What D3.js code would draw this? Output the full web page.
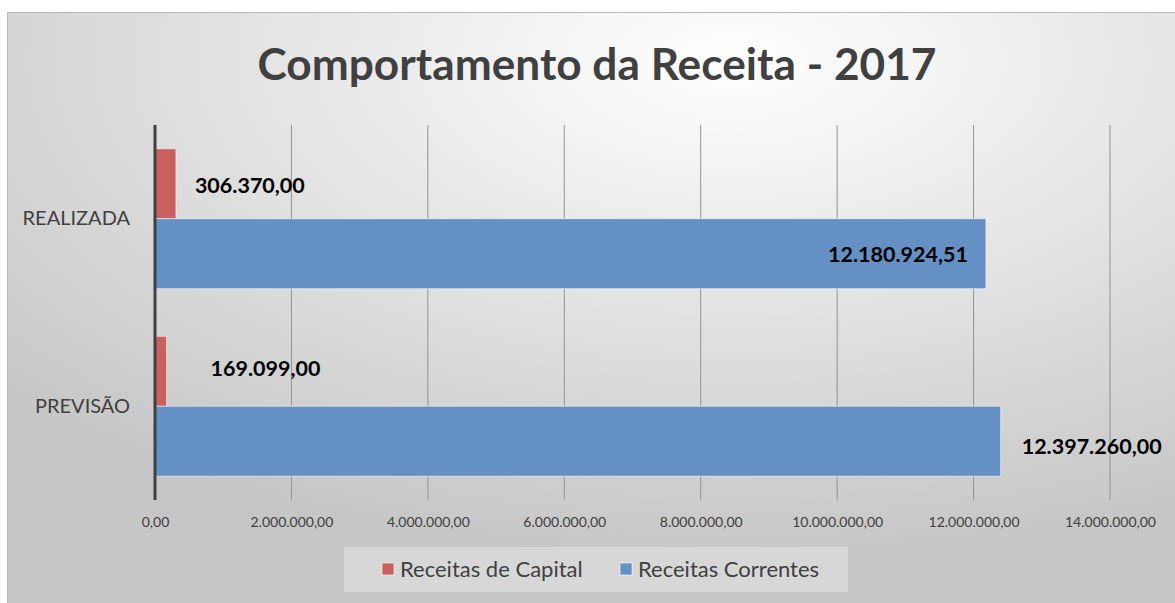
<!DOCTYPE html>
<html lang="pt">
<head>
<meta charset="UTF-8">
<title>Comportamento da Receita - 2017</title>
<script src="https://d3js.org/d3.v7.min.js"></script>
<style>
  body { margin: 0; background: #fff; font-family: Lato, 'Open Sans', sans-serif; }
  .tick text { fill: #404040; }
</style>
</head>
<body>
<div id="chart"></div>
<script>
// data
const categories = ["REALIZADA", "PREVISÃO"];
const seriesNames = ["Receitas de Capital", "Receitas Correntes"];
const capital = [306370.00, 169099.00];
const correntes = [12180924.51, 12397260.00];
const xTicks = [0, 2000000, 4000000, 6000000, 8000000, 10000000, 12000000, 14000000];
const colors = ["#c9625f", "#6490c4"];

const W = 1175, H = 603;
const plot = {left: 155, right: 1110, top: 125, bottom: 500};

const svg = d3.select("#chart").append("svg")
    .attr("width", W).attr("height", H);

// background gradient
const defs = svg.append("defs");
const grad = defs.append("radialGradient").attr("id", "bg")
    .attr("cx", "62%").attr("cy", "8%").attr("r", "85%");
grad.append("stop").attr("offset", "0%").attr("stop-color", "#ffffff");
grad.append("stop").attr("offset", "100%").attr("stop-color", "#c6c6c6");

svg.append("rect").attr("x", 7.5).attr("y", 12.5)
    .attr("width", W - 7).attr("height", H - 12)
    .attr("fill", "url(#bg)").attr("stroke", "#b8b8b8");

// number format pt-BR
const fmt = d3.formatLocale({decimal: ",", thousands: ".", grouping: [3], currency: ["R$", ""]}).format(",.2f");

// scales
const x = d3.scaleLinear().domain([0, 14000000]).range([plot.left, plot.right]);
const y = d3.scaleBand().domain(categories).range([plot.top, plot.bottom]);
const ySub = d3.scaleBand().domain(seriesNames).range([0, y.bandwidth()])
    .paddingInner(0).paddingOuter(0.34);

// title
svg.append("text")
    .attr("x", 597).attr("y", 80)
    .attr("text-anchor", "middle")
    .attr("font-size", 44).attr("font-weight", 700)
    .attr("fill", "#404040")
    .attr("textLength", 679).attr("lengthAdjust", "spacingAndGlyphs")
    .text("Comportamento da Receita - 2017");

// gridlines
svg.append("g").selectAll("line")
    .data(xTicks.slice(1))
    .join("line")
    .attr("x1", d => x(d)).attr("x2", d => x(d))
    .attr("y1", plot.top).attr("y2", plot.bottom)
    .attr("stroke", "#939393").attr("stroke-width", 1);

// x axis labels
const xAxis = svg.append("g")
    .attr("transform", `translate(0,${plot.bottom + 14})`)
    .call(d3.axisBottom(x).tickValues(xTicks).tickSize(0).tickFormat(fmt));
xAxis.select(".domain").remove();
xAxis.selectAll("text").attr("font-family", "Lato, sans-serif").attr("font-size", 14);

// y axis labels
const yAxis = svg.append("g")
    .attr("transform", `translate(${plot.left - 22},0)`)
    .call(d3.axisLeft(y).tickSize(0));
yAxis.select(".domain").remove();
yAxis.selectAll("text").attr("font-family", "Lato, sans-serif").attr("font-size", 20);

// bars
const rows = categories.map((c, i) => ({cat: c, values: [capital[i], correntes[i]]}));
const groups = svg.append("g").selectAll("g")
    .data(rows).join("g")
    .attr("transform", d => `translate(0,${y(d.cat)})`);

groups.selectAll("rect")
    .data(d => d.values.map((v, j) => ({series: seriesNames[j], value: v, j})))
    .join("rect")
    .attr("x", x(0))
    .attr("y", d => ySub(d.series))
    .attr("width", d => x(d.value) - x(0))
    .attr("height", ySub.bandwidth())
    .attr("fill", d => colors[d.j])
    .attr("stroke", "rgba(255,255,255,0.55)")
    .attr("stroke-width", 1);

// data labels (manual nudges like in the original)
const labelNudge = [
    [[19, 2], [-18, 1]],   // REALIZADA: capital, correntes
    [[44, -3], [21, 5]]    // PREVISÃO
];
groups.each(function(row, i) {
    row.values.forEach((v, j) => {
        const [dx, dy] = labelNudge[i][j];
        const inside = dx < 0;
        d3.select(this).append("text")
            .attr("x", x(v) + dx)
            .attr("y", ySub(seriesNames[j]) + ySub.bandwidth() / 2 + dy)
            .attr("dy", "0.35em")
            .attr("text-anchor", inside ? "end" : "start")
            .attr("font-size", 21.5).attr("font-weight", 700)
            .attr("fill", "#000")
            .text(fmt(v));
    });
});

// left axis line
svg.append("line")
    .attr("x1", x(0)).attr("x2", x(0))
    .attr("y1", plot.top).attr("y2", plot.bottom)
    .attr("stroke", "#404040").attr("stroke-width", 3);

// legend
const legend = svg.append("g");
legend.append("rect")
    .attr("x", 344).attr("y", 547).attr("width", 504).attr("height", 45)
    .attr("fill", "rgba(255,255,255,0.3)");
const legendX = [382, 620];
seriesNames.forEach((s, j) => {
    legend.append("rect")
        .attr("x", legendX[j]).attr("y", 563).attr("width", 12).attr("height", 12)
        .attr("fill", colors[j]).attr("stroke", "rgba(255,255,255,0.6)");
    legend.append("text")
        .attr("x", legendX[j] + 18).attr("y", 569).attr("dy", "0.35em")
        .attr("font-size", 22).attr("fill", "#404040")
        .text(s);
});
</script>
</body>
</html>
